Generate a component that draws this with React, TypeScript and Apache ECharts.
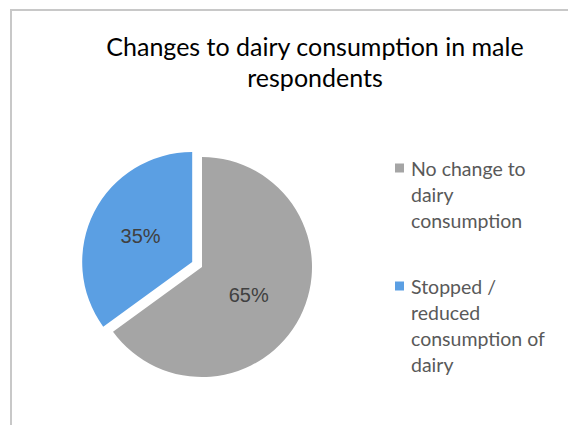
import React, { useEffect, useRef } from "react";
import * as echarts from "echarts";

const titleLines = ["Changes to dairy consumption in male", "respondents"];
const categories = ["No change to dairy consumption", "Stopped / reduced consumption of dairy"];
const legendLines = [
  ["No change to", "dairy", "consumption"],
  ["Stopped /", "reduced", "consumption of", "dairy"],
];
const values = [65, 35];
const colors = ["#A5A5A5", "#5B9FE3"];
const explodedIndex = 1;
const labelOffsets = [
  [-5, 2],
  [2, -3],
];

export default function App() {
  const ref = useRef<HTMLDivElement>(null);
  useEffect(() => {
    document.body.style.margin = "0";
    if (!ref.current) return;
    const chart = echarts.init(ref.current, undefined, { renderer: "svg" });
    const rich: Record<string, any> = {
      t: { fontSize: 19.5, lineHeight: 26, color: "#595959", fontFamily: "Lato" },
      sp: { width: 7, height: 9 },
      ind: { width: 16, height: 9 },
    };
    colors.forEach((c, i) => {
      rich["s" + i] = { width: 9, height: 9, backgroundColor: c, lineHeight: 26 };
    });
    chart.setOption({
      animation: false,
      backgroundColor: "#FFFFFF",
      title: {
        text: titleLines.join("\n"),
        left: 315,
        top: 30,
        textAlign: "center",
        padding: 0,
        textStyle: {
          fontSize: 25,
          fontWeight: "normal",
          lineHeight: 31,
          color: "#000000",
          fontFamily: "Lato",
        },
      },
      legend: {
        orient: "vertical",
        left: 390,
        top: 155,
        padding: 0,
        itemGap: 40,
        icon: "none",
        itemWidth: 0,
        itemHeight: 0,
        selectedMode: false,
        data: categories,
        formatter: (name: string) => {
          const i = categories.indexOf(name);
          const lines = legendLines[i];
          return lines
            .map((l, k) => (k === 0 ? `{s${i}|}{sp|}{t|${l}}` : `{ind|}{t|${l}}`))
            .join("\n");
        },
        textStyle: {
          fontSize: 19.5,
          lineHeight: 26,
          color: "#595959",
          fontFamily: "Lato",
          rich,
        },
      },
      graphic: [
        {
          type: "rect",
          silent: true,
          z: -10,
          shape: { x: 11, y: 10, width: 700, height: 600 },
          style: { fill: "none", stroke: "#C8C8C8", lineWidth: 2 },
        },
      ],
      series: [
        {
          type: "pie",
          center: [202, 267],
          radius: 110,
          startAngle: 90,
          clockwise: true,
          selectedMode: "single",
          selectedOffset: 11,
          emphasis: { disabled: true },
          label: {
            show: true,
            position: "inside",
            formatter: "{d}%",
            fontSize: 20,
            color: "#404040",
            fontFamily: "Liberation Sans",
          },
          labelLine: { show: false },
          itemStyle: { borderWidth: 0 },
          data: categories.map((name, i) => ({
            name,
            value: values[i],
            selected: i === explodedIndex,
            itemStyle: { color: colors[i] },
            label: { offset: labelOffsets[i] },
          })),
        },
      ],
    });
    return () => chart.dispose();
  }, []);
  return <div ref={ref} style={{ width: 568, height: 425 }} />;
}
